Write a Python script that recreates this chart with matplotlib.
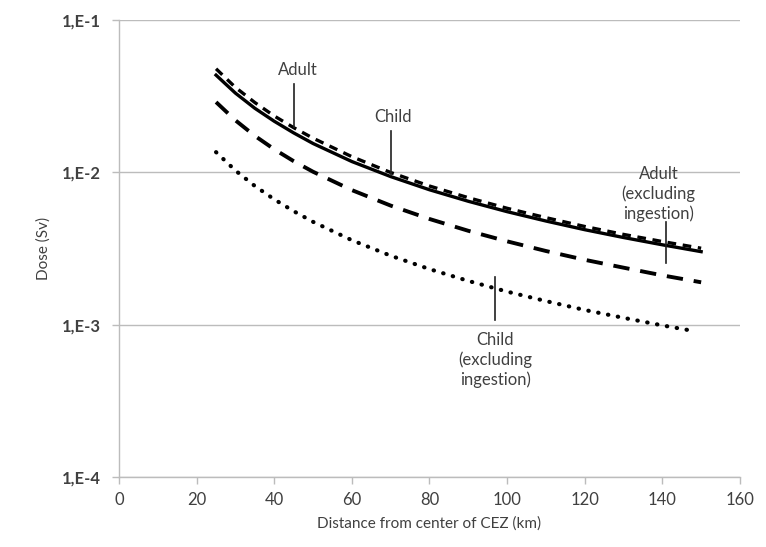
import matplotlib
matplotlib.use("Agg")
import matplotlib.pyplot as plt
from matplotlib.ticker import FixedLocator, FuncFormatter, NullLocator

plt.rcParams['font.family'] = ['Lato', 'DejaVu Sans']

# distance from center of CEZ (km)
dist = [25, 30, 35, 40, 45, 50, 60, 70, 80, 90, 100, 110, 120, 130, 140, 150]
dist_dot = [25, 30, 35, 40, 45, 50, 60, 70, 80, 90, 100, 110, 120, 130, 140, 147]

# dose (Sv)
adult = [0.0480, 0.0362, 0.0288, 0.0235, 0.0197, 0.0168, 0.0127, 0.0100,
         0.00815, 0.00683, 0.00582, 0.00505, 0.00442, 0.00392, 0.00352, 0.00318]
child = [0.0436, 0.0332, 0.0264, 0.0217, 0.0182, 0.0155, 0.0118, 0.0094,
         0.0077, 0.00647, 0.00553, 0.0048, 0.00421, 0.00374, 0.00335, 0.00302]
adult_noing = [0.029, 0.0220, 0.0174, 0.0142, 0.01187, 0.01011, 0.00766, 0.00606,
               0.00495, 0.00414, 0.00353, 0.00305, 0.00267, 0.00237, 0.00211, 0.00190]
child_noing = [0.0136, 0.0103, 0.00815, 0.00666, 0.00557, 0.00474, 0.00359, 0.00284,
               0.00232, 0.00194, 0.00165, 0.00143, 0.00125, 0.00111, 0.00099, 0.00092]

yticks = [1e-4, 1e-3, 1e-2, 1e-1]
ytick_labels = ["1,E-4", "1,E-3", "1,E-2", "1,E-1"]
xticks = [0, 20, 40, 60, 80, 100, 120, 140, 160]

fig = plt.figure(figsize=(7.66, 5.47), dpi=100)
ax = fig.add_axes([0.1554, 0.128, 0.8106, 0.835])

ax.plot(dist, child, color="black", lw=2.4, solid_joinstyle="round")
ax.plot(dist, adult, color="black", lw=2.4, linestyle=(0, (2.6, 2.0)))
ax.plot(dist, adult_noing, color="black", lw=2.8, linestyle=(0, (4.2, 2.8)))
ax.plot(dist_dot, child_noing, color="black", lw=3.0, linestyle=(0, (0.1, 2.3)),
        dash_capstyle="round")

ax.set_yscale("log")
ax.set_ylim(1e-4, 1e-1)
ax.set_xlim(0, 160)
ax.yaxis.set_major_locator(FixedLocator(yticks))
ax.yaxis.set_minor_locator(NullLocator())
ax.yaxis.set_major_formatter(FuncFormatter(lambda v, p: ytick_labels[yticks.index(v)] if v in yticks else ""))
ax.set_xticks(xticks)
ax.set_xticklabels([str(t) for t in xticks])

ax.grid(axis="y", color="#bcbcbc", lw=1.0)
ax.set_axisbelow(True)
for s in ["top", "right"]:
    ax.spines[s].set_visible(False)
for s in ["left", "bottom"]:
    ax.spines[s].set_color("#bcbcbc")
    ax.spines[s].set_linewidth(1.0)
ax.tick_params(axis="both", colors="#bcbcbc", length=5, width=1.0, labelcolor="#404040")
ax.tick_params(axis="y", labelsize=12, pad=8)
ax.tick_params(axis="x", labelsize=12, pad=6)
for lab in ax.get_yticklabels():
    lab.set_fontweight("bold")

ax.set_xlabel("Distance from center of CEZ (km)", fontsize=11, color="#404040", labelpad=6)
ax.set_ylabel("Dose (Sv)", fontsize=11, color="#404040", labelpad=8)

tc = "#404040"
ax.text(46, 0.047, "Adult", ha="center", va="center", fontsize=12, color=tc)
ax.plot([45, 45], [0.0198, 0.038], color="#202020", lw=1.2)
ax.text(70.5, 0.0231, "Child", ha="center", va="center", fontsize=12, color=tc)
ax.plot([70, 70], [0.0097, 0.0187], color="#202020", lw=1.2)
ax.text(139, 0.0072, "Adult\n(excluding\ningestion)", ha="center", va="center",
        fontsize=12, color=tc, linespacing=1.25)
ax.plot([141, 141], [0.00254, 0.00472], color="#202020", lw=1.2)
ax.text(97, 0.00059, "Child\n(excluding\ningestion)", ha="center", va="center",
        fontsize=12, color=tc, linespacing=1.25)
ax.plot([97, 97], [0.00107, 0.00205], color="#202020", lw=1.2)

fig.savefig("out.png", dpi=100)
